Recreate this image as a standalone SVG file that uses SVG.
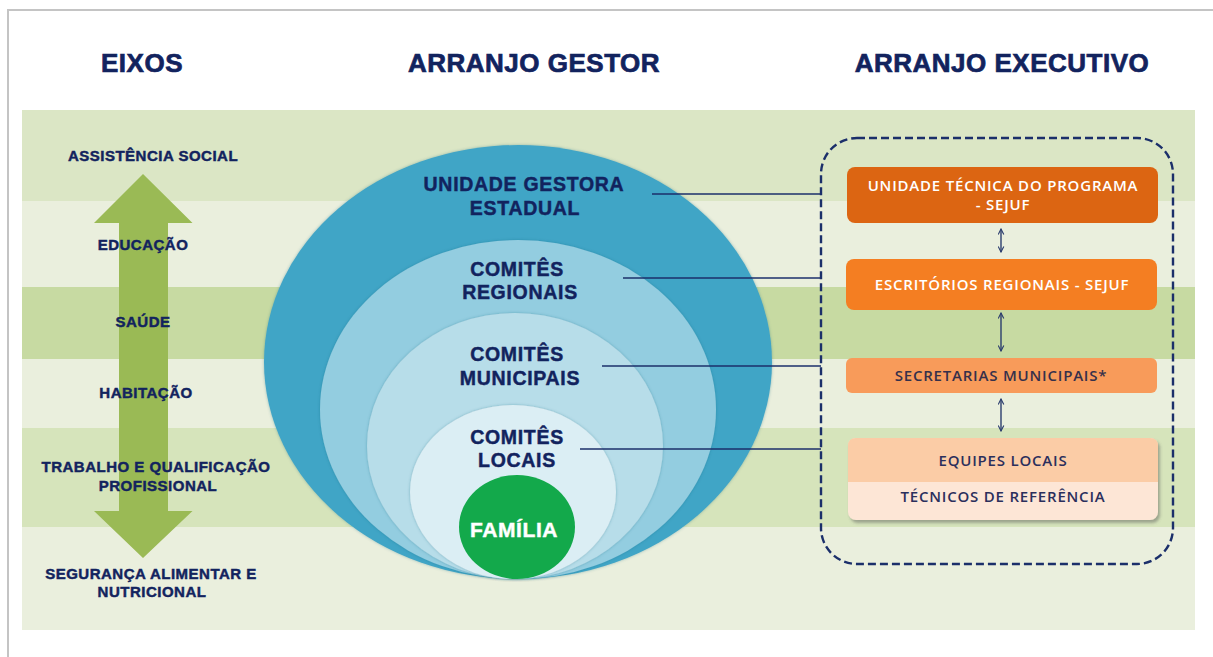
<svg xmlns="http://www.w3.org/2000/svg" width="1213" height="657" viewBox="0 0 1213 657">
<defs>
<style>
.title{font-family:"Liberation Sans",Arial,sans-serif;font-weight:bold;font-size:26px;fill:#12235e;text-anchor:middle;stroke:#12235e;stroke-width:0.7;letter-spacing:0.5px}
.axis{font-family:"Liberation Sans",Arial,sans-serif;font-weight:bold;font-size:15px;fill:#12235e;text-anchor:middle;stroke:#12235e;stroke-width:0.45;letter-spacing:0.5px}
.lvl{font-family:"Liberation Sans",Arial,sans-serif;font-weight:bold;font-size:19.5px;fill:#12235e;text-anchor:middle;stroke:#12235e;stroke-width:0.45;letter-spacing:0.7px}
.box{font-family:"Open Sans","Liberation Sans",sans-serif;font-weight:600;font-size:15px;text-anchor:middle;letter-spacing:0.8px}
.conn{stroke:#1b2f6a;stroke-width:1.6;fill:none}
.dbl{stroke:#2c3e6e;stroke-width:1.4;fill:none;marker-start:url(#head);marker-end:url(#head)}
</style>
<marker id="head" viewBox="0 0 10 10" refX="9" refY="5" markerWidth="7" markerHeight="7" markerUnits="userSpaceOnUse" orient="auto-start-reverse">
<path d="M1,1 L9,5 L1,9" fill="none" stroke="#2c3e6e" stroke-width="1.6"/>
</marker>
<filter id="soft" x="-5%" y="-5%" width="110%" height="110%">
<feGaussianBlur in="SourceAlpha" stdDeviation="1.5"/>
<feOffset dx="0" dy="0" result="b"/>
<feFlood flood-color="#1d5f74" flood-opacity="0.35"/>
<feComposite in2="b" operator="in"/>
<feMerge><feMergeNode/><feMergeNode in="SourceGraphic"/></feMerge>
</filter>
<filter id="shadow" x="-5%" y="-10%" width="112%" height="130%">
<feGaussianBlur in="SourceAlpha" stdDeviation="1.5"/>
<feOffset dx="2" dy="3" result="o"/>
<feFlood flood-color="#555" flood-opacity="0.45"/>
<feComposite in2="o" operator="in"/>
<feMerge><feMergeNode/><feMergeNode in="SourceGraphic"/></feMerge>
</filter>
</defs>

<rect x="0" y="0" width="1213" height="657" fill="#ffffff"/>
<path d="M8,657 L8,10 L1213,10" fill="none" stroke="#c4c4c4" stroke-width="2"/>

<g id="bands">
<rect x="22" y="110" width="1173" height="91" fill="#dbe6c5"/>
<rect x="22" y="201" width="1173" height="86" fill="#eaefdd"/>
<rect x="22" y="287" width="1173" height="72" fill="#c7daa2"/>
<rect x="22" y="359" width="1173" height="69" fill="#eaefdd"/>
<rect x="22" y="428" width="1173" height="99" fill="#d6e4bb"/>
<rect x="22" y="527" width="1173" height="103" fill="#eaefdd"/>
</g>

<g id="titles">
<text class="title" x="142" y="72">EIXOS</text>
<text class="title" x="534" y="72">ARRANJO GESTOR</text>
<text class="title" x="1002" y="72">ARRANJO EXECUTIVO</text>
</g>

<g id="eixos">
<polygon points="143,174 192.5,223 168,223 168,511 192.5,511 143,558 94,511 119,511 119,223 94,223" fill="#9aba55"/>
<text class="axis" x="153" y="161">ASSISTÊNCIA SOCIAL</text>
<text class="axis" x="143" y="250">EDUCAÇÃO</text>
<text class="axis" x="143" y="327">SAÚDE</text>
<text class="axis" x="146" y="398">HABITAÇÃO</text>
<text class="axis" x="156" y="472">TRABALHO E QUALIFICAÇÃO</text>
<text class="axis" x="158" y="491">PROFISSIONAL</text>
<text class="axis" x="151" y="579">SEGURANÇA ALIMENTAR E</text>
<text class="axis" x="152" y="597">NUTRICIONAL</text>
</g>

<g id="gestor">
<g id="unidade-gestora">
<ellipse cx="518" cy="362" rx="254" ry="217" fill="#41a5c6" filter="url(#soft)"/>
<text class="lvl" x="524" y="191">UNIDADE  GESTORA</text>
<text class="lvl" x="525" y="215">ESTADUAL</text>
</g>
<g id="comites-regionais">
<ellipse cx="518" cy="409.5" rx="198" ry="169.5" fill="#93cde0" filter="url(#soft)"/>
<text class="lvl" x="517" y="276">COMITÊS</text>
<text class="lvl" x="520" y="299">REGIONAIS</text>
</g>
<g id="comites-municipais">
<ellipse cx="515" cy="446" rx="148" ry="133" fill="#b7dde9" filter="url(#soft)"/>
<text class="lvl" x="517" y="361">COMITÊS</text>
<text class="lvl" x="520" y="385">MUNICIPAIS</text>
</g>
<g id="comites-locais">
<ellipse cx="513" cy="492" rx="103" ry="87" fill="#dbeef4" filter="url(#soft)"/>
<text class="lvl" x="517" y="444">COMITÊS</text>
<text class="lvl" x="517" y="467">LOCAIS</text>
</g>
<g id="familia">
<ellipse cx="517" cy="527" rx="58" ry="52" fill="#13a94b"/>
<text class="lvl" x="514" y="537" style="fill:#ffffff;stroke:#ffffff;font-size:21px;letter-spacing:0.6px">FAMÍLIA</text>
</g>
</g>

<g id="connectors">
<line class="conn" x1="652" y1="194" x2="821" y2="194"/>
<line class="conn" x1="623" y1="278" x2="821" y2="278"/>
<line class="conn" x1="602" y1="366" x2="821" y2="366"/>
<line class="conn" x1="580" y1="449" x2="821" y2="449"/>
<line class="dbl" x1="1001" y1="229" x2="1001" y2="252"/>
<line class="dbl" x1="1001" y1="313" x2="1001" y2="351"/>
<line class="dbl" x1="1001" y1="399" x2="1001" y2="431"/>
</g>

<g id="executivo">
<rect x="821" y="138" width="352" height="426" rx="36" ry="36" fill="none" stroke="#1b2f6a" stroke-width="2.4" stroke-dasharray="8 4"/>
<g id="unidade-tecnica">
<rect x="847" y="167" width="311" height="56" rx="8" fill="#dc6512"/>
<text class="box" x="1003" y="191" fill="#ffffff">UNIDADE TÉCNICA DO PROGRAMA</text>
<text class="box" x="1003" y="210" fill="#ffffff">- SEJUF</text>
</g>
<g id="escritorios">
<rect x="846" y="259" width="311" height="51" rx="8" fill="#f47e22"/>
<text class="box" x="1002" y="290" fill="#ffffff">ESCRITÓRIOS REGIONAIS - SEJUF</text>
</g>
<g id="secretarias">
<rect x="846" y="358" width="311" height="35" rx="6" fill="#f89b5a"/>
<text class="box" x="1001" y="381" fill="#36304a">SECRETARIAS MUNICIPAIS*</text>
</g>
<g id="equipes">
<g filter="url(#shadow)">
<rect x="848" y="438" width="310" height="82" rx="8" fill="#fde6d6"/>
<path d="M848,482 L848,446 Q848,438 856,438 L1150,438 Q1158,438 1158,446 L1158,482 Z" fill="#fbcca6"/>
</g>
<text class="box" x="1003" y="466" fill="#2b2f5c">EQUIPES LOCAIS</text>
<text class="box" x="1003" y="502" fill="#2b2f5c">TÉCNICOS DE REFERÊNCIA</text>
</g>
</g>
</svg>
